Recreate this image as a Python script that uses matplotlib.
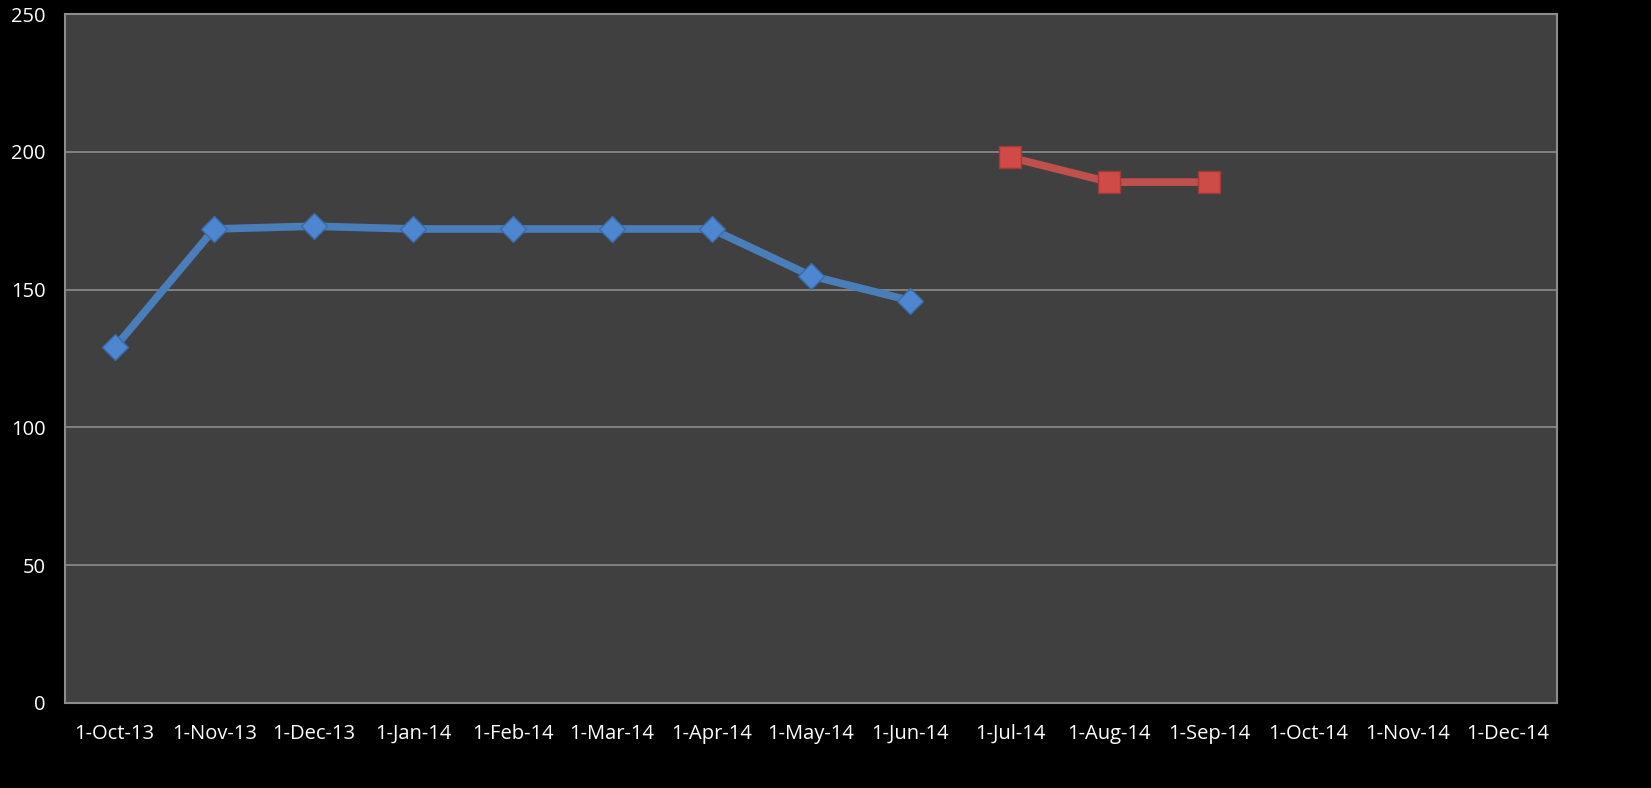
import matplotlib.pyplot as plt
import numpy as np

plt.rcParams['font.family'] = ['Open Sans', 'DejaVu Sans']

# Data
months = ['1-Oct-13', '1-Nov-13', '1-Dec-13', '1-Jan-14', '1-Feb-14', '1-Mar-14',
          '1-Apr-14', '1-May-14', '1-Jun-14', '1-Jul-14', '1-Aug-14', '1-Sep-14',
          '1-Oct-14', '1-Nov-14', '1-Dec-14']
blue_values = [129, 172, 173, 172, 172, 172, 172, 155, 146]
red_values = [198, 189, 189]
red_start = 9

x = np.arange(len(months))

fig = plt.figure(figsize=(16.51, 7.88), dpi=100, facecolor='black')
ax = fig.add_axes([65 / 1651, 85 / 788, 1492 / 1651, 689 / 788])
ax.set_facecolor('#404040')

ax.plot(x[:len(blue_values)], blue_values, color='#4a7ebb', lw=5.5,
        marker='D', ms=13, mfc='#4f86d0', mec='#3a6aa8', mew=1, zorder=3)
ax.plot(x[red_start:red_start + len(red_values)], red_values, color='#c0504d', lw=5.5,
        marker='s', ms=16, mfc='#d04a48', mec='#a03a38', mew=1, zorder=3)

ax.set_xlim(-0.5, len(months) - 0.5)
ax.set_ylim(0, 250)
ax.set_yticks(range(0, 251, 50))
ax.set_xticks(x)
ax.set_xticklabels(months)
ax.yaxis.grid(True, color='#8c8c8c', lw=1.2)
ax.set_axisbelow(True)
ax.tick_params(colors='white', labelsize=14.5, length=0)
ax.tick_params(axis='x', pad=15)
ax.tick_params(axis='y', pad=14)
for s in ax.spines.values():
    s.set_color('#8c8c8c')
    s.set_linewidth(1.5)

fig.savefig('out.png', dpi=100, facecolor='black')
